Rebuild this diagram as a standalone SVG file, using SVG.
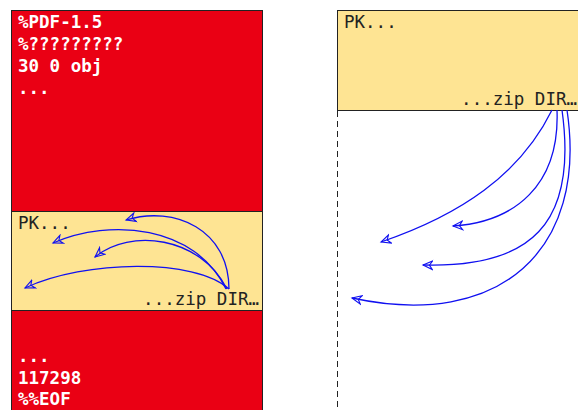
<svg xmlns="http://www.w3.org/2000/svg" width="578" height="410" viewBox="0 0 578 410">
<style>
.red{fill:#EA0014;stroke:#222;stroke-width:1}
.yel{fill:#FEE493;stroke:#222;stroke-width:1}
.w{font-family:"DejaVu Sans Mono","Liberation Mono",monospace;font-size:17.5px;font-weight:bold;fill:#fff}
.k{font-family:"DejaVu Sans Mono","Liberation Mono",monospace;font-size:17.5px;fill:#222}
.arr{fill:none;stroke:#1010F0;stroke-width:1.3;marker-end:url(#ah)}
</style>
<defs>
<marker id="ah" viewBox="-1 -7 15 14" markerWidth="13" markerHeight="12" refX="11" refY="0" orient="auto" markerUnits="userSpaceOnUse">
<path d="M11,0 L0,-5 L3.5,0 L0,5 Z" fill="none" stroke="#1010F0" stroke-width="1.3"/>
</marker>
</defs>
<rect width="578" height="410" fill="#fff"/>
<g id="pdf-top">
<rect class="red" x="11.5" y="10.5" width="251" height="201"/>
<text class="w" x="18" y="27.5">%PDF-1.5</text>
<text class="w" x="18" y="50">%?????????</text>
<text class="w" x="18" y="72">30 0 obj</text>
<text class="w" x="18" y="94">...</text>
</g>
<g id="zip-left">
<rect class="yel" x="11.5" y="211.5" width="251" height="99"/>
<text class="k" x="18" y="229">PK...</text>
<text class="k" x="259" y="305" text-anchor="end">...zip DIR…</text>
</g>
<g id="pdf-bottom">
<rect class="red" x="11.5" y="310.5" width="251" height="110"/>
<text class="w" x="18" y="362">...</text>
<text class="w" x="18" y="384">117298</text>
<text class="w" x="18" y="405">%%EOF</text>
</g>
<g id="zip-right">
<rect class="yel" x="337.5" y="10.5" width="250" height="100"/>
<text class="k" x="344" y="28">PK...</text>
<text class="k" x="577" y="105" text-anchor="end">...zip DIR…</text>
</g>
<g id="connectors">
<line x1="337.5" y1="111" x2="337.5" y2="410" stroke="#222" stroke-width="1" stroke-dasharray="6,4"/>
<path class="arr" d="M229,289 C229,230 175,205 126,220"/>
<path class="arr" d="M226,289 C195,225 110,218 53,243"/>
<path class="arr" d="M227,289 C200,236 130,228 95,257"/>
<path class="arr" d="M229,289 C195,258 85,260 25,288"/>
<path class="arr" d="M552,110 C520,175 460,215 381,242"/>
<path class="arr" d="M557,110 C560,185 515,222 453,226"/>
<path class="arr" d="M562,110 C578,225 530,268 423,265"/>
<path class="arr" d="M567,110 C588,250 500,330 352,298"/>
</g>
</svg>
